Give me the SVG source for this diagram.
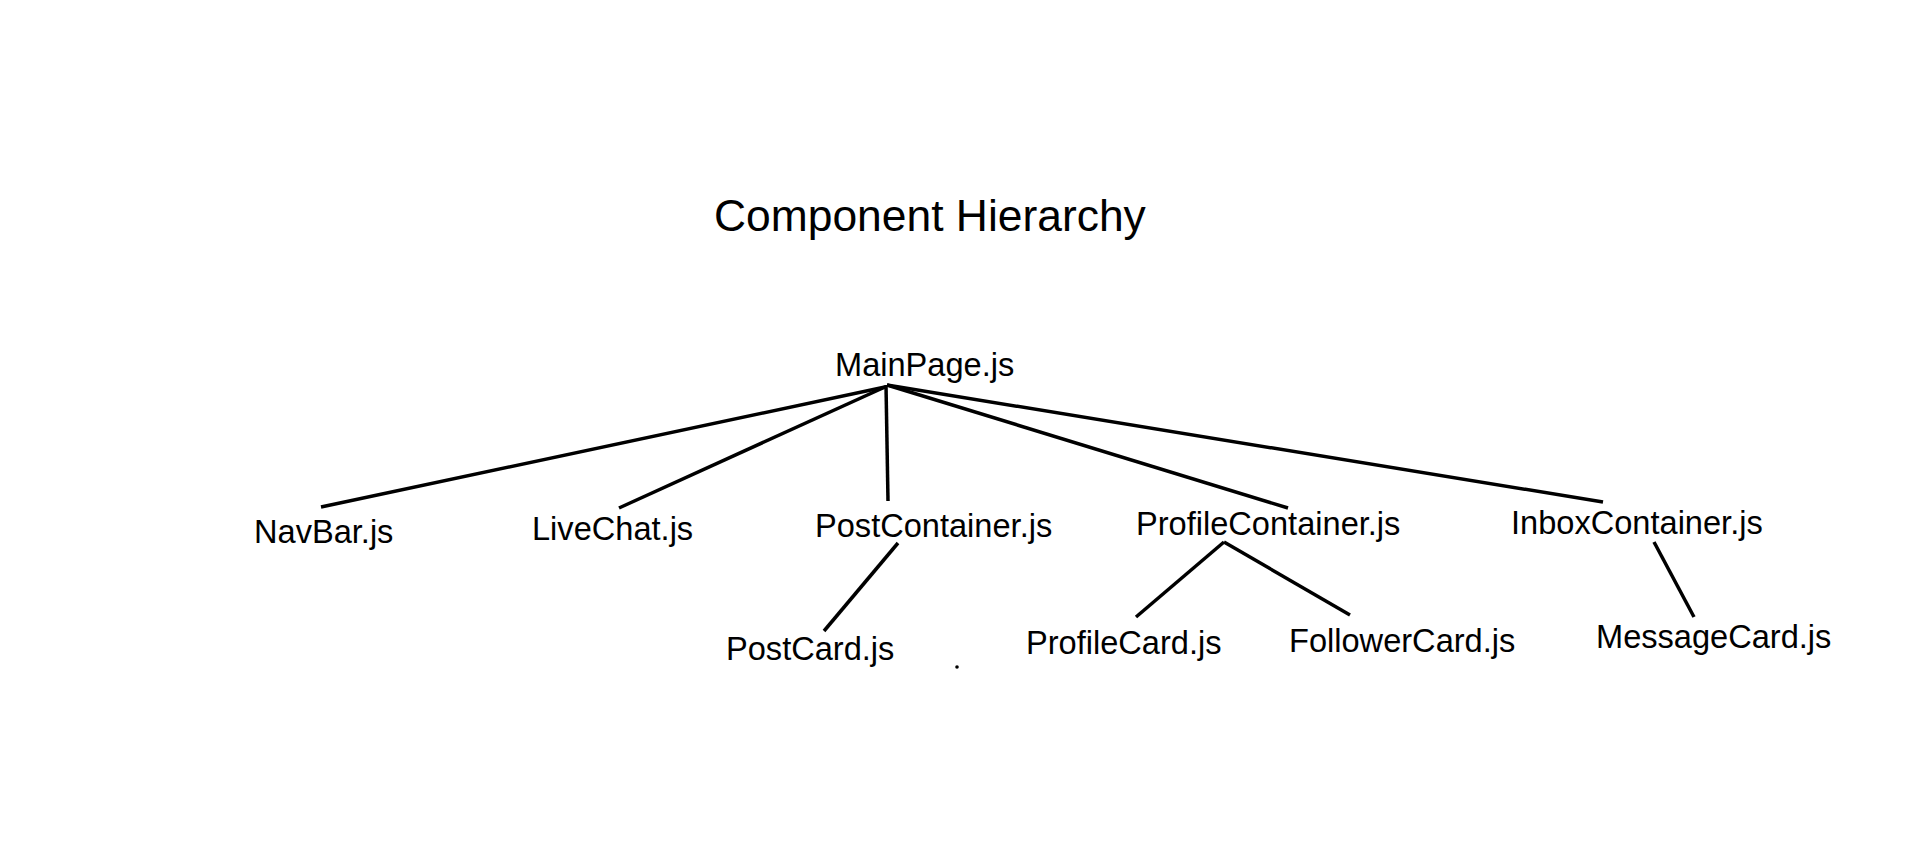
<svg xmlns="http://www.w3.org/2000/svg" width="1920" height="859" viewBox="0 0 1920 859">
<style>
.t{font-family:"Liberation Sans",Arial,sans-serif;font-size:32.6px;fill:#000}
.title{font-family:"Liberation Sans",Arial,sans-serif;font-size:44.4px;fill:#000}
.c line{stroke:#000;stroke-width:3.5;stroke-linecap:butt}
</style>
<rect width="1920" height="859" fill="#fff"/>
<text class="title" x="714" y="231">Component Hierarchy</text>
<g class="c" id="connectors">
<line x1="885" y1="387" x2="321" y2="507"/>
<line x1="885" y1="387" x2="619" y2="508"/>
<line x1="886" y1="385" x2="888" y2="501"/>
<line x1="887" y1="385" x2="1288" y2="508"/>
<line x1="887" y1="385" x2="1603" y2="502"/>
<line x1="898" y1="543" x2="824" y2="631"/>
<line x1="1224" y1="542" x2="1136" y2="617"/>
<line x1="1224" y1="542" x2="1350" y2="615"/>
<line x1="1654" y1="542" x2="1694" y2="617"/>
</g>
<g id="MainPage"><text class="t" x="835" y="376">MainPage.js</text></g>
<g id="NavBar"><text class="t" x="254" y="543">NavBar.js</text></g>
<g id="LiveChat"><text class="t" x="532" y="540">LiveChat.js</text></g>
<g id="PostContainer"><text class="t" x="815" y="537">PostContainer.js</text></g>
<g id="ProfileContainer"><text class="t" x="1136" y="535">ProfileContainer.js</text></g>
<g id="InboxContainer"><text class="t" x="1511" y="534">InboxContainer.js</text></g>
<g id="PostCard"><text class="t" x="726" y="660">PostCard.js</text></g>
<g id="ProfileCard"><text class="t" x="1026" y="654">ProfileCard.js</text></g>
<g id="FollowerCard"><text class="t" x="1289" y="652">FollowerCard.js</text></g>
<g id="MessageCard"><text class="t" x="1596" y="648">MessageCard.js</text></g>
<circle cx="957" cy="667" r="1.8" fill="#000"/>
</svg>
